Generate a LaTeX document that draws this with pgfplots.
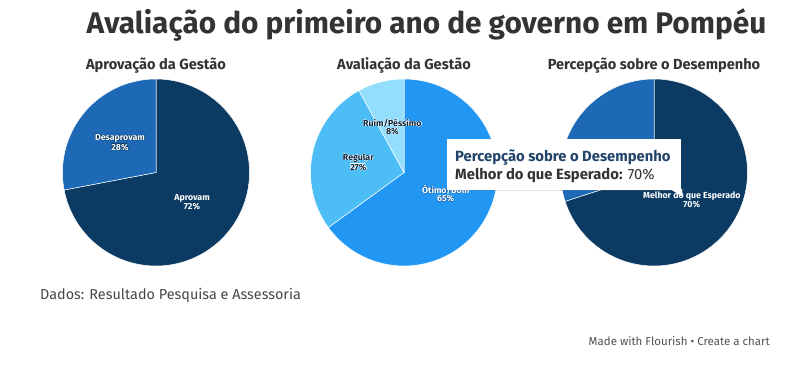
\documentclass[border=0pt]{standalone}
\usepackage{pgfplots}
\pgfplotsset{compat=1.18}
\usepackage{fontspec}
\setmainfont{Fira Sans}
\usepackage[copies]{contour}
\contourlength{0.35pt}
\usetikzlibrary{shadows}
\definecolor{navy}{HTML}{0B3A62}
\definecolor{midblue}{HTML}{1D69B6}
\definecolor{brightblue}{HTML}{2196F3}
\definecolor{regblue}{HTML}{4DBDF6}
\definecolor{paleblue}{HTML}{93DEFC}
\definecolor{txtgray}{HTML}{333333}
\definecolor{labdark}{HTML}{0A2540}
\definecolor{tipnavy}{HTML}{22436A}
\pgfplotsset{
  pie/.style={scale only axis, width=187pt, height=187pt,
    xmin=-1, xmax=1, ymin=-1, ymax=1, hide axis, clip=false, anchor=center},
  slice/.style={draw=white, line width=0.5pt, samples=120, no marks},
}
\newcommand\lab[4]{% mid percent, color text, contour color, text
  \node[text=#2, align=center, font=\bfseries\fontsize{8.8}{8.2}\selectfont, inner sep=0pt]
    at (axis cs:{0.5*sin(3.6*#1)},{0.5*cos(3.6*#1)}) {#4};}
\begin{document}
\begin{tikzpicture}[x=1pt, y=1pt]
\fill[white] (0,0) rectangle (792,366);
% title
\node[anchor=base, font=\bfseries\fontsize{29.8}{32}\selectfont, text=txtgray] at (426.5,332) {Avaliação do primeiro ano de governo em Pompéu};
\node[anchor=base, font=\bfseries\fontsize{14.6}{16}\selectfont, text=txtgray] at (156,296) {Aprovação da Gestão};
\node[anchor=base, font=\bfseries\fontsize{14.6}{16}\selectfont, text=txtgray] at (404,296) {Avaliação da Gestão};
\node[anchor=base, font=\bfseries\fontsize{14.6}{16}\selectfont, text=txtgray] at (654,296) {Percepção sobre o Desempenho};

% Pie 1: Aprovação da Gestão (percent, cumulative)
\begin{axis}[pie, at={(156pt,193.5pt)}]
\addplot[slice, fill=navy, domain=0:72] ({sin(3.6*x)},{cos(3.6*x)}) -- (axis cs:0,0) -- cycle;
\addplot[slice, fill=midblue, domain=72:100] ({sin(3.6*x)},{cos(3.6*x)}) -- (axis cs:0,0) -- cycle;
\lab{36}{white}{navy}{\contour{navy}{Aprovam}\\\contour{navy}{72\%}}
\lab{86}{white}{navy}{\contour{navy}{Desaprovam}\\\contour{navy}{28\%}}
\end{axis}

% Pie 2: Avaliação da Gestão
\begin{axis}[pie, at={(404pt,193.5pt)}]
\addplot[slice, fill=brightblue, domain=0:65] ({sin(3.6*x)},{cos(3.6*x)}) -- (axis cs:0,0) -- cycle;
\addplot[slice, fill=regblue, domain=65:92] ({sin(3.6*x)},{cos(3.6*x)}) -- (axis cs:0,0) -- cycle;
\addplot[slice, fill=paleblue, domain=92:100] ({sin(3.6*x)},{cos(3.6*x)}) -- (axis cs:0,0) -- cycle;
\lab{32.5}{white}{navy}{\contour{midblue}{Ótimo/Bom}\\\contour{midblue}{65\%}}
\lab{78.5}{labdark}{white}{\contour{white}{Regular}\\\contour{white}{27\%}}
\lab{96}{labdark}{white}{\contour{white}{Ruim/Péssimo}\\\contour{white}{8\%}}
\end{axis}

% Pie 3: Percepção sobre o Desempenho
\begin{axis}[pie, at={(654pt,193.5pt)}]
\addplot[slice, fill=navy, domain=0:70] ({sin(3.6*x)},{cos(3.6*x)}) -- (axis cs:0,0) -- cycle;
\addplot[slice, fill=midblue, domain=70:100] ({sin(3.6*x)},{cos(3.6*x)}) -- (axis cs:0,0) -- cycle;
\lab{35}{white}{navy}{\contour{navy}{Melhor do que Esperado}\\\contour{navy}{70\%}}
\end{axis}

% tooltip
\fill[white, drop shadow={opacity=0.2, shadow xshift=0pt, shadow yshift=-1.5pt}] (447,227) rectangle (681,176);
\fill[white] (670,177) -- (682,177) -- (683,169) -- cycle;
\node[anchor=base west, font=\bfseries\fontsize{14.8}{16}\selectfont, text=tipnavy, inner sep=0pt] at (455,204) {Percepção sobre o Desempenho};
\node[anchor=base west, font=\fontsize{14.8}{16}\selectfont, text=txtgray, inner sep=0pt] at (455,186) {\textbf{Melhor do que Esperado:} 70\%};

% footer
\node[anchor=base west, font=\fontsize{14.4}{16}\selectfont, text=txtgray!90, inner sep=0pt] at (40,66) {Dados: Resultado Pesquisa e Assessoria};
\node[anchor=base east, font=\fontsize{11.5}{13}\selectfont, text=txtgray!85, inner sep=0pt] at (770,20) {Made with Flourish • Create a chart};
\end{tikzpicture}
\end{document}
